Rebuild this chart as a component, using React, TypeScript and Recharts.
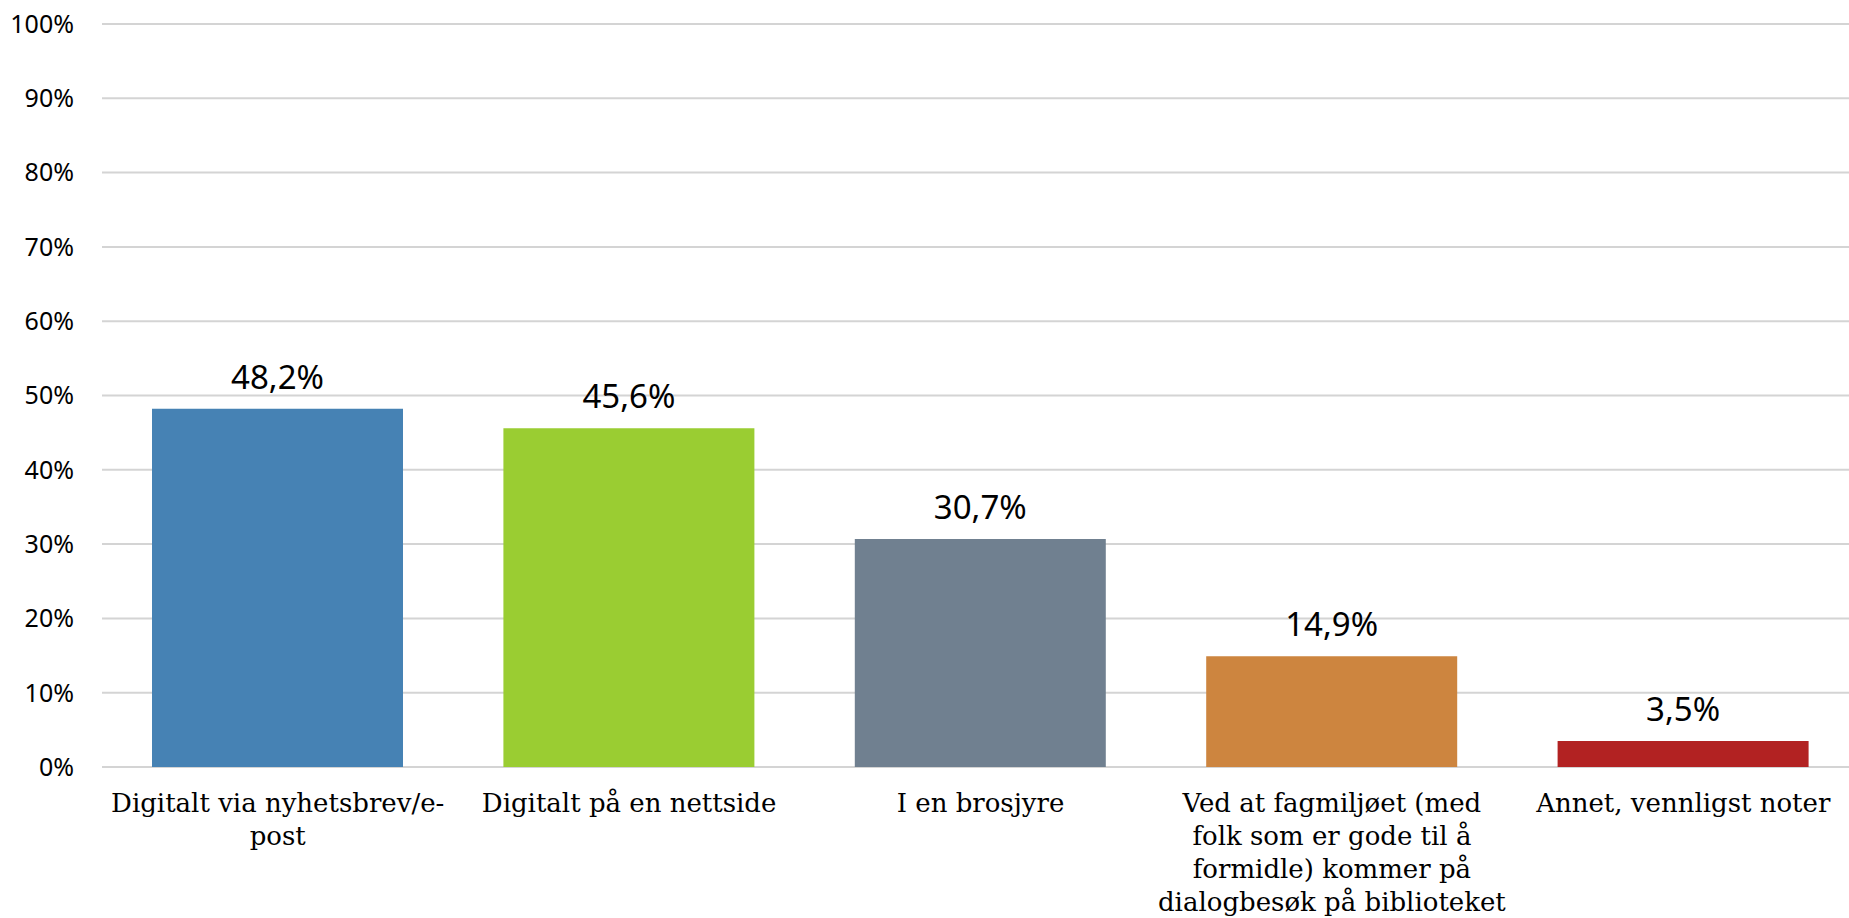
import React from 'react';
import { BarChart, Bar, XAxis, YAxis, CartesianGrid, Cell, LabelList } from 'recharts';

const categories = [
  'Digitalt via nyhetsbrev/e-post',
  'Digitalt på en nettside',
  'I en brosjyre',
  'Ved at fagmiljøet (med folk som er gode til å formidle) kommer på dialogbesøk på biblioteket',
  'Annet, vennligst noter',
];
const categoryLines = [
  ['Digitalt via nyhetsbrev/e-', 'post'],
  ['Digitalt på en nettside'],
  ['I en brosjyre'],
  ['Ved at fagmiljøet (med', 'folk som er gode til å', 'formidle) kommer på', 'dialogbesøk på biblioteket'],
  ['Annet, vennligst noter'],
];
const values = [48.2, 45.6, 30.7, 14.9, 3.5];
const colors = ['#4682B4', '#9ACD32', '#708090', '#CD853F', '#B22222'];
const yTicks = [0, 10, 20, 30, 40, 50, 60, 70, 80, 90, 100];

const data = categories.map((c, i) => ({ category: c, value: values[i], idx: i }));

const CategoryTick = (props: any) => {
  const { x, y, payload } = props;
  const idx = categories.indexOf(payload.value);
  const lines = categoryLines[idx] || [payload.value];
  return (
    <text
      x={x}
      y={y + 45}
      textAnchor="middle"
      fill="#000"
      fontFamily="'DejaVu Serif', serif"
      fontSize={26}
    >
      {lines.map((l: string, i: number) => (
        <tspan key={i} x={x} dy={i === 0 ? 0 : 33}>
          {l}
        </tspan>
      ))}
    </text>
  );
};

const fmt = (v: any) => String(v).replace('.', ',') + '%';

export default function App() {
  return (
    <div
      style={{
        position: 'fixed',
        left: 0,
        top: 0,
        width: 1849,
        height: 918,
        overflow: 'hidden',
        background: '#fff',
      }}
    >
      <BarChart
        width={1859}
        height={918}
        data={data}
        margin={{ top: 24, right: 0, left: 0, bottom: 0 }}
      >
        <CartesianGrid vertical={false} stroke="#d4d4d4" strokeWidth={2} />
        <XAxis
          dataKey="category"
          height={151}
          interval={0}
          tickLine={false}
          axisLine={false}
          tickSize={0}
          tickMargin={0}
          tick={<CategoryTick />}
        />
        <YAxis
          width={102}
          domain={[0, 100]}
          ticks={yTicks}
          interval={0}
          tickLine={false}
          axisLine={false}
          tickSize={0}
          tickMargin={28}
          tickFormatter={(v: number) => v + '%'}
          tick={{ fill: '#000', fontSize: 25, fontFamily: "'Noto Sans', sans-serif" }}
        />
        <Bar dataKey="value" barSize={251} isAnimationActive={false}>
          {data.map((d, i) => (
            <Cell key={i} fill={colors[i]} />
          ))}
          <LabelList
            dataKey="value"
            position="top"
            offset={20}
            formatter={fmt}
            fill="#000"
            fontSize={33}
            fontFamily="'Noto Sans', sans-serif"
          />
        </Bar>
      </BarChart>
    </div>
  );
}
